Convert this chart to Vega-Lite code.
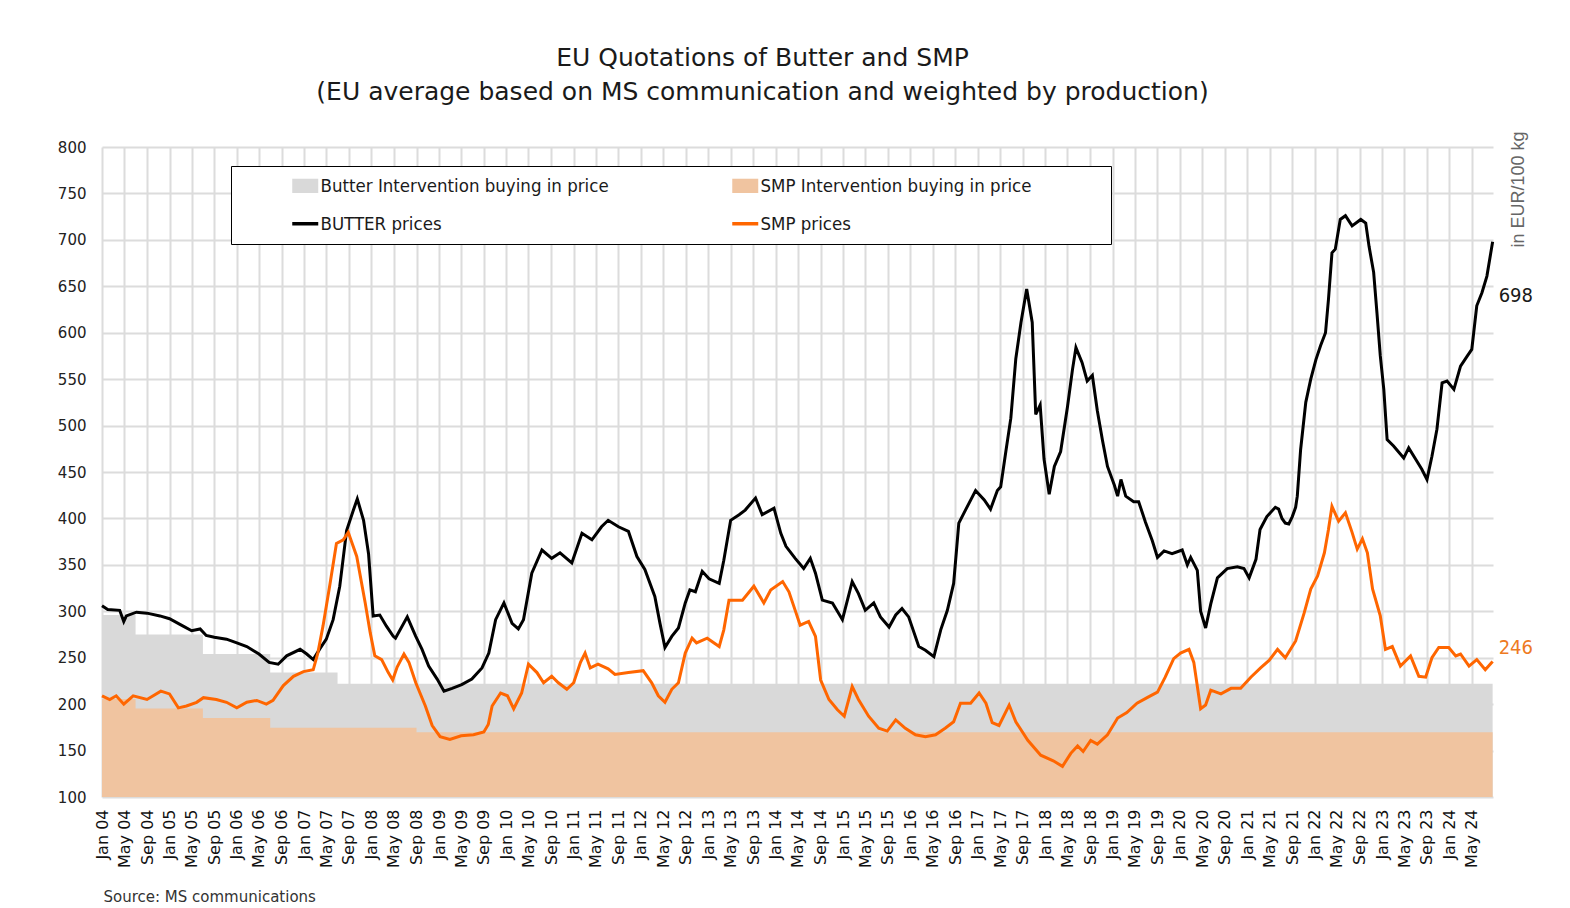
{
  "$schema": "https://vega.github.io/schema/vega-lite/v6.json",
  "autosize": {"type": "none"},
  "padding": {"left": 102, "top": 147, "right": 77, "bottom": 111},
  "width": 1391,
  "height": 650,
  "background": "white",
  "config": {"view": {"stroke": null}},
  "title": {
    "text": ["EU Quotations of Butter and SMP", "(EU average based on MS communication and weighted by production)"],
    "anchor": "middle", "dx": -35, "offset": 26,
    "font": "DejaVu Sans", "fontSize": 25, "fontWeight": "normal", "color": "#1a1a1a", "lineHeight": 34
  },
  "datasets": {
    "butterInt": [
      {"date": "2004-01-01", "value": 296}, {"date": "2004-07-01", "value": 275}, {"date": "2005-07-01", "value": 254},
      {"date": "2006-07-01", "value": 234}, {"date": "2007-07-01", "value": 222}, {"date": "2024-08-22", "value": 222}
    ],
    "smpInt": [
      {"date": "2004-01-01", "value": 205.5}, {"date": "2004-07-01", "value": 195.2}, {"date": "2005-07-01", "value": 185},
      {"date": "2006-07-01", "value": 174.7}, {"date": "2008-09-01", "value": 169.8}, {"date": "2024-08-22", "value": 169.8}
    ],
    "butter": [
      {"date":"2004-01-01","value":306},{"date":"2004-02-01","value":302},{"date":"2004-04-06","value":301},{"date":"2004-04-28","value":289},
      {"date":"2004-05-12","value":295},{"date":"2004-07-06","value":299},{"date":"2004-09-01","value":298},{"date":"2004-11-10","value":295},
      {"date":"2005-01-01","value":292},{"date":"2005-03-16","value":284},{"date":"2005-05-01","value":279},{"date":"2005-06-16","value":281},
      {"date":"2005-07-19","value":274},{"date":"2005-09-01","value":272},{"date":"2005-11-06","value":270},{"date":"2006-01-01","value":266},
      {"date":"2006-02-24","value":262},{"date":"2006-05-01","value":254},{"date":"2006-06-25","value":245},{"date":"2006-08-13","value":243},
      {"date":"2006-09-28","value":252},{"date":"2006-12-10","value":259},{"date":"2007-01-15","value":254},{"date":"2007-02-19","value":248},
      {"date":"2007-03-25","value":259},{"date":"2007-05-01","value":270},{"date":"2007-06-07","value":291},{"date":"2007-07-13","value":327},
      {"date":"2007-08-19","value":387},{"date":"2007-09-25","value":409},{"date":"2007-10-16","value":421},{"date":"2007-11-19","value":398},
      {"date":"2007-12-16","value":362},{"date":"2008-01-10","value":295},{"date":"2008-02-15","value":296},{"date":"2008-03-22","value":284},
      {"date":"2008-04-28","value":273},{"date":"2008-05-10","value":271},{"date":"2008-07-13","value":294},{"date":"2008-08-28","value":273},
      {"date":"2008-10-01","value":259},{"date":"2008-11-06","value":241},{"date":"2008-12-22","value":227},{"date":"2009-01-28","value":214},
      {"date":"2009-03-13","value":217},{"date":"2009-05-04","value":221},{"date":"2009-06-28","value":227},{"date":"2009-08-22","value":239},
      {"date":"2009-09-28","value":255},{"date":"2009-11-04","value":291},{"date":"2009-12-19","value":309},{"date":"2010-02-01","value":287},
      {"date":"2010-03-07","value":281},{"date":"2010-04-04","value":291},{"date":"2010-05-19","value":341},{"date":"2010-07-13","value":366},
      {"date":"2010-09-04","value":357},{"date":"2010-10-19","value":363},{"date":"2010-12-22","value":352},{"date":"2011-02-15","value":384},
      {"date":"2011-04-10","value":377},{"date":"2011-06-01","value":391},{"date":"2011-07-07","value":398},{"date":"2011-09-01","value":391},
      {"date":"2011-10-25","value":386},{"date":"2011-12-10","value":359},{"date":"2012-01-22","value":345},{"date":"2012-03-16","value":316},
      {"date":"2012-04-13","value":287},{"date":"2012-05-10","value":261},{"date":"2012-06-16","value":273},{"date":"2012-07-22","value":282},
      {"date":"2012-08-28","value":309},{"date":"2012-09-22","value":323},{"date":"2012-10-22","value":321},{"date":"2012-11-28","value":343},
      {"date":"2013-01-04","value":335},{"date":"2013-02-28","value":330},{"date":"2013-03-25","value":355},{"date":"2013-05-01","value":398},
      {"date":"2013-06-16","value":404},{"date":"2013-07-19","value":409},{"date":"2013-09-13","value":422},{"date":"2013-10-19","value":404},
      {"date":"2013-12-22","value":411},{"date":"2014-01-28","value":384},{"date":"2014-02-25","value":370},{"date":"2014-04-16","value":357},
      {"date":"2014-06-01","value":346},{"date":"2014-07-07","value":357},{"date":"2014-08-04","value":341},{"date":"2014-09-10","value":312},
      {"date":"2014-11-04","value":309},{"date":"2014-12-28","value":291},{"date":"2015-02-19","value":332},{"date":"2015-03-25","value":319},
      {"date":"2015-05-01","value":301},{"date":"2015-06-16","value":309},{"date":"2015-07-22","value":294},{"date":"2015-09-07","value":283},
      {"date":"2015-10-13","value":296},{"date":"2015-11-16","value":303},{"date":"2015-12-22","value":294},{"date":"2016-02-15","value":262},
      {"date":"2016-03-22","value":258},{"date":"2016-05-07","value":251},{"date":"2016-06-13","value":280},{"date":"2016-07-19","value":301},
      {"date":"2016-08-22","value":330},{"date":"2016-09-19","value":395},{"date":"2016-10-25","value":409},{"date":"2016-12-19","value":430},
      {"date":"2017-02-04","value":420},{"date":"2017-03-10","value":410},{"date":"2017-04-16","value":430},{"date":"2017-05-04","value":434},
      {"date":"2017-06-01","value":472},{"date":"2017-06-28","value":508},{"date":"2017-07-25","value":572},{"date":"2017-08-22","value":611},
      {"date":"2017-09-22","value":647},{"date":"2017-10-22","value":611},{"date":"2017-11-10","value":512},{"date":"2017-12-04","value":522},
      {"date":"2017-12-25","value":464},{"date":"2018-01-22","value":426},{"date":"2018-02-19","value":456},{"date":"2018-03-25","value":472},
      {"date":"2018-05-01","value":520},{"date":"2018-05-28","value":560},{"date":"2018-06-16","value":584},{"date":"2018-07-19","value":568},
      {"date":"2018-08-16","value":548},{"date":"2018-09-13","value":554},{"date":"2018-10-10","value":516},{"date":"2018-11-07","value":484},
      {"date":"2018-12-04","value":456},{"date":"2019-01-10","value":436},{"date":"2019-01-28","value":424},{"date":"2019-02-15","value":442},
      {"date":"2019-03-13","value":424},{"date":"2019-04-25","value":418},{"date":"2019-05-22","value":418},{"date":"2019-06-28","value":396},
      {"date":"2019-08-04","value":376},{"date":"2019-09-01","value":358},{"date":"2019-10-07","value":365},{"date":"2019-11-19","value":362},
      {"date":"2020-01-13","value":366},{"date":"2020-02-10","value":350},{"date":"2020-02-28","value":358},{"date":"2020-04-04","value":344},
      {"date":"2020-04-22","value":300},{"date":"2020-05-19","value":282},{"date":"2020-06-16","value":308},{"date":"2020-07-22","value":336},
      {"date":"2020-09-13","value":346},{"date":"2020-11-07","value":348},{"date":"2020-12-13","value":346},{"date":"2021-01-10","value":336},
      {"date":"2021-02-16","value":356},{"date":"2021-03-10","value":388},{"date":"2021-04-16","value":402},{"date":"2021-06-01","value":412},
      {"date":"2021-06-19","value":410},{"date":"2021-07-07","value":400},{"date":"2021-07-25","value":395},{"date":"2021-08-13","value":394},
      {"date":"2021-09-01","value":402},{"date":"2021-09-19","value":412},{"date":"2021-09-28","value":424},{"date":"2021-10-16","value":474},
      {"date":"2021-11-13","value":525},{"date":"2021-12-10","value":550},{"date":"2022-01-07","value":571},{"date":"2022-02-01","value":586},
      {"date":"2022-02-28","value":600},{"date":"2022-03-16","value":636},{"date":"2022-04-04","value":686},{"date":"2022-04-22","value":690},
      {"date":"2022-05-19","value":722},{"date":"2022-06-16","value":726},{"date":"2022-07-22","value":715},{"date":"2022-09-07","value":722},
      {"date":"2022-10-04","value":718},{"date":"2022-10-22","value":693},{"date":"2022-11-16","value":665},{"date":"2022-12-04","value":621},
      {"date":"2022-12-22","value":575},{"date":"2023-01-10","value":539},{"date":"2023-01-28","value":485},{"date":"2023-03-04","value":478},
      {"date":"2023-04-28","value":465},{"date":"2023-05-25","value":476},{"date":"2023-07-01","value":464},{"date":"2023-08-04","value":453},
      {"date":"2023-09-01","value":442},{"date":"2023-09-28","value":467},{"date":"2023-10-25","value":496},{"date":"2023-11-22","value":546},
      {"date":"2023-12-19","value":548},{"date":"2024-01-25","value":539},{"date":"2024-03-01","value":564},{"date":"2024-04-07","value":575},
      {"date":"2024-05-01","value":582},{"date":"2024-05-28","value":629},{"date":"2024-06-25","value":643},{"date":"2024-07-22","value":661},
      {"date":"2024-08-22","value":698}
    ],
    "smp": [
      {"date":"2004-01-01","value":209},{"date":"2004-02-12","value":205},{"date":"2004-03-18","value":209},{"date":"2004-04-28","value":200},
      {"date":"2004-06-18","value":209},{"date":"2004-09-01","value":205},{"date":"2004-11-15","value":214},{"date":"2005-01-01","value":211},
      {"date":"2005-02-18","value":196},{"date":"2005-04-03","value":198},{"date":"2005-05-28","value":202},{"date":"2005-07-04","value":207},
      {"date":"2005-09-12","value":205},{"date":"2005-11-06","value":202},{"date":"2006-01-01","value":196},{"date":"2006-02-24","value":202},
      {"date":"2006-04-19","value":204},{"date":"2006-06-10","value":200},{"date":"2006-07-16","value":204},{"date":"2006-09-10","value":220},
      {"date":"2006-11-04","value":230},{"date":"2006-12-28","value":235},{"date":"2007-02-19","value":237},{"date":"2007-03-16","value":255},
      {"date":"2007-04-13","value":284},{"date":"2007-05-19","value":327},{"date":"2007-06-25","value":373},{"date":"2007-08-01","value":377},
      {"date":"2007-08-28","value":385},{"date":"2007-10-13","value":359},{"date":"2007-11-28","value":309},{"date":"2007-12-25","value":277},
      {"date":"2008-01-19","value":252},{"date":"2008-02-25","value":248},{"date":"2008-04-01","value":234},{"date":"2008-04-25","value":226},
      {"date":"2008-05-19","value":240},{"date":"2008-06-25","value":254},{"date":"2008-07-22","value":245},{"date":"2008-08-28","value":223},
      {"date":"2008-10-19","value":198},{"date":"2008-11-25","value":177},{"date":"2009-01-07","value":165},{"date":"2009-03-01","value":162},
      {"date":"2009-05-01","value":166},{"date":"2009-07-07","value":167},{"date":"2009-09-01","value":170},{"date":"2009-09-25","value":178},
      {"date":"2009-10-16","value":198},{"date":"2009-12-01","value":212},{"date":"2010-01-07","value":209},{"date":"2010-02-10","value":195},
      {"date":"2010-03-25","value":212},{"date":"2010-05-01","value":243},{"date":"2010-06-16","value":234},{"date":"2010-07-22","value":223},
      {"date":"2010-09-04","value":230},{"date":"2010-10-10","value":223},{"date":"2010-11-25","value":216},{"date":"2011-01-01","value":223},
      {"date":"2011-02-07","value":245},{"date":"2011-03-04","value":255},{"date":"2011-04-01","value":239},{"date":"2011-05-13","value":243},
      {"date":"2011-07-07","value":238},{"date":"2011-08-13","value":232},{"date":"2011-10-25","value":234},{"date":"2012-01-13","value":236},
      {"date":"2012-02-28","value":223},{"date":"2012-04-04","value":209},{"date":"2012-05-10","value":202},{"date":"2012-06-16","value":216},
      {"date":"2012-07-22","value":223},{"date":"2012-08-28","value":255},{"date":"2012-10-04","value":271},{"date":"2012-10-28","value":266},
      {"date":"2012-12-25","value":271},{"date":"2013-02-28","value":262},{"date":"2013-03-25","value":280},{"date":"2013-04-22","value":312},
      {"date":"2013-07-04","value":312},{"date":"2013-09-04","value":327},{"date":"2013-10-28","value":309},{"date":"2013-12-04","value":323},
      {"date":"2014-02-07","value":332},{"date":"2014-03-13","value":321},{"date":"2014-04-16","value":301},{"date":"2014-05-13","value":285},
      {"date":"2014-06-28","value":289},{"date":"2014-08-04","value":273},{"date":"2014-09-01","value":226},{"date":"2014-10-16","value":205},
      {"date":"2014-12-01","value":194},{"date":"2015-01-07","value":187},{"date":"2015-02-19","value":219},{"date":"2015-03-25","value":205},
      {"date":"2015-05-19","value":187},{"date":"2015-07-13","value":174},{"date":"2015-08-28","value":171},{"date":"2015-10-13","value":183},
      {"date":"2015-12-04","value":174},{"date":"2016-01-28","value":167},{"date":"2016-03-22","value":165},{"date":"2016-05-16","value":167},
      {"date":"2016-07-07","value":174},{"date":"2016-08-22","value":181},{"date":"2016-09-28","value":201},{"date":"2016-11-22","value":201},
      {"date":"2017-01-07","value":212},{"date":"2017-02-13","value":201},{"date":"2017-03-19","value":180},{"date":"2017-04-25","value":177},
      {"date":"2017-06-19","value":199},{"date":"2017-07-25","value":181},{"date":"2017-09-28","value":161},{"date":"2017-12-07","value":145},
      {"date":"2018-02-13","value":139},{"date":"2018-04-04","value":133},{"date":"2018-05-19","value":147},{"date":"2018-06-25","value":155},
      {"date":"2018-07-25","value":149},{"date":"2018-09-04","value":161},{"date":"2018-10-10","value":157},{"date":"2018-12-04","value":167},
      {"date":"2019-01-28","value":185},{"date":"2019-03-19","value":191},{"date":"2019-05-13","value":201},{"date":"2019-07-07","value":207},
      {"date":"2019-09-01","value":213},{"date":"2019-10-13","value":229},{"date":"2019-11-28","value":249},{"date":"2020-01-04","value":255},
      {"date":"2020-02-19","value":259},{"date":"2020-03-16","value":245},{"date":"2020-04-22","value":195},{"date":"2020-05-19","value":199},
      {"date":"2020-06-16","value":215},{"date":"2020-08-10","value":211},{"date":"2020-10-04","value":217},{"date":"2020-11-25","value":217},
      {"date":"2021-01-19","value":229},{"date":"2021-03-13","value":239},{"date":"2021-04-28","value":247},{"date":"2021-06-13","value":259},
      {"date":"2021-07-25","value":250},{"date":"2021-09-19","value":268},{"date":"2021-11-04","value":298},{"date":"2021-12-10","value":324},
      {"date":"2022-01-16","value":338},{"date":"2022-02-22","value":363},{"date":"2022-03-16","value":388},{"date":"2022-04-04","value":413},
      {"date":"2022-05-10","value":397},{"date":"2022-06-16","value":406},{"date":"2022-07-22","value":385},{"date":"2022-08-19","value":367},
      {"date":"2022-09-16","value":378},{"date":"2022-10-13","value":363},{"date":"2022-11-10","value":324},{"date":"2022-12-22","value":295},
      {"date":"2023-01-19","value":259},{"date":"2023-02-25","value":262},{"date":"2023-04-10","value":241},{"date":"2023-06-04","value":252},
      {"date":"2023-07-19","value":230},{"date":"2023-08-25","value":229},{"date":"2023-09-28","value":250},{"date":"2023-11-04","value":261},
      {"date":"2023-12-28","value":261},{"date":"2024-02-04","value":252},{"date":"2024-03-01","value":254},{"date":"2024-04-16","value":241},
      {"date":"2024-05-28","value":248},{"date":"2024-07-13","value":237},{"date":"2024-08-22","value":246}
    ]
  },
  "resolve": {"axis": {"y": "independent"}},
  "layer": [
    {
      "data": {"name": "butterInt"},
      "mark": {"type": "area", "interpolate": "step-after", "opacity": 1},
      "encoding": {
        "x": {
          "field": "date", "type": "temporal",
          "scale": {"type": "utc", "domain": [{"year": 2004, "month": 1, "date": 1, "utc": true}, {"year": 2024, "month": 8, "date": 24, "utc": true}]},
          "axis": {
            "title": "Source: MS communications", "titleAnchor": "start", "titleAlign": "left", "titleX": 1, "titleY": 99,
            "titleBaseline": "middle", "titleFont": "DejaVu Sans", "titleFontSize": 15, "titleFontWeight": "normal", "titleColor": "#333333",
            "format": "%b %y", "labelAngle": -90, "labelOverlap": false, "labelPadding": 12, "labelFontSize": 16,
            "labelFont": "DejaVu Sans", "labelColor": "#111111", "tickCount": {"interval": "month", "step": 4},
            "ticks": false, "domain": false, "grid": true, "gridColor": "#DCDCDC", "gridWidth": 2, "labelBound": false, "labelFlush": false
          }
        },
        "y": {
          "field": "value", "type": "quantitative",
          "scale": {"domain": [100, 800], "nice": false, "zero": false},
          "axis": {
            "title": null, "values": [100,150,200,250,300,350,400,450,500,550,600,650,700,750,800],
            "domain": false, "ticks": false, "labelPadding": 16, "labelFontSize": 15, "labelFont": "DejaVu Sans",
            "labelColor": "#222222", "grid": true, "gridColor": "#DCDCDC", "gridWidth": 2
          }
        },
        "y2": {"datum": 100},
        "color": {
          "datum": "Butter Intervention buying in price", "type": "nominal",
          "scale": {
            "domain": ["Butter Intervention buying in price", "BUTTER prices", "SMP Intervention buying in price", "SMP prices"],
            "range": ["#D9D9D9", "#000000", "#F0C4A0", "#FF6600"]
          },
          "legend": {
            "title": " ", "titleOrient": "right", "titlePadding": 68.5, "orient": "none", "legendX": 129, "legendY": 19, "columns": 2,
            "padding": 10.5, "rowPadding": 19, "columnPadding": 72, "symbolSize": 676, "symbolOffset": 54.5, "labelOffset": 6,
            "symbolType": {"expr": "test(/prices$/, datum.value) ? 'M-1,0H1' : 'M-1,-0.55H1V0.55H-1Z'"},
            "symbolStrokeColor": {"expr": "scale('color', datum.value)"},
            "symbolStrokeWidth": {"expr": "test(/prices$/, datum.value) ? 3.5 : 0"},
            "symbolOpacity": 1,
            "labelFont": "DejaVu Sans Condensed", "labelFontSize": 18.5, "labelColor": "#1a1a1a", "labelLimit": 0,
            "strokeColor": "#000000", "fillColor": "#FFFFFF"
          }
        }
      }
    },
    {
      "data": {"name": "smpInt"},
      "mark": {"type": "area", "interpolate": "step-after", "opacity": 1},
      "encoding": {
        "x": {"field": "date", "type": "temporal"},
        "y": {"field": "value", "type": "quantitative", "axis": null},
        "y2": {"datum": 100},
        "color": {"datum": "SMP Intervention buying in price", "type": "nominal"}
      }
    },
    {
      "data": {"name": "butter"},
      "mark": {"type": "line", "strokeWidth": 3},
      "encoding": {
        "x": {"field": "date", "type": "temporal"},
        "y": {
          "field": "value", "type": "quantitative",
          "axis": {
            "orient": "right", "title": "in EUR/100 kg", "labels": false, "ticks": false, "domain": false, "grid": false,
            "titleAngle": -90, "titleX": 25, "titleY": 42, "titleAlign": "center", "titleBaseline": "middle",
            "titleFont": "Liberation Sans", "titleFontSize": 18, "titleFontWeight": "normal", "titleColor": "#666666"
          }
        },
        "color": {"datum": "BUTTER prices", "type": "nominal"}
      }
    },
    {
      "data": {"name": "smp"},
      "mark": {"type": "line", "strokeWidth": 3},
      "encoding": {
        "x": {"field": "date", "type": "temporal"},
        "y": {"field": "value", "type": "quantitative", "axis": null},
        "color": {"datum": "SMP prices", "type": "nominal"}
      }
    },
    {
      "data": {"name": "butter"},
      "transform": [
        {"joinaggregate": [{"op": "max", "field": "date", "as": "maxd"}]},
        {"filter": "datum.date >= datum.maxd"}
      ],
      "mark": {"type": "text", "align": "left", "baseline": "middle", "dx": 6, "dy": 54, "font": "DejaVu Sans Condensed", "fontSize": 20, "color": "#1a1a1a"},
      "encoding": {
        "x": {"field": "date", "type": "temporal"},
        "y": {"field": "value", "type": "quantitative", "axis": null},
        "text": {"field": "value", "type": "quantitative", "format": ".0f"}
      }
    },
    {
      "data": {"name": "smp"},
      "transform": [
        {"joinaggregate": [{"op": "max", "field": "date", "as": "maxd"}]},
        {"filter": "datum.date >= datum.maxd"}
      ],
      "mark": {"type": "text", "align": "left", "baseline": "middle", "dx": 6, "dy": -13, "font": "DejaVu Sans Condensed", "fontSize": 20, "color": "#EE7A22"},
      "encoding": {
        "x": {"field": "date", "type": "temporal"},
        "y": {"field": "value", "type": "quantitative", "axis": null},
        "text": {"field": "value", "type": "quantitative", "format": ".0f"}
      }
    }
  ]
}
